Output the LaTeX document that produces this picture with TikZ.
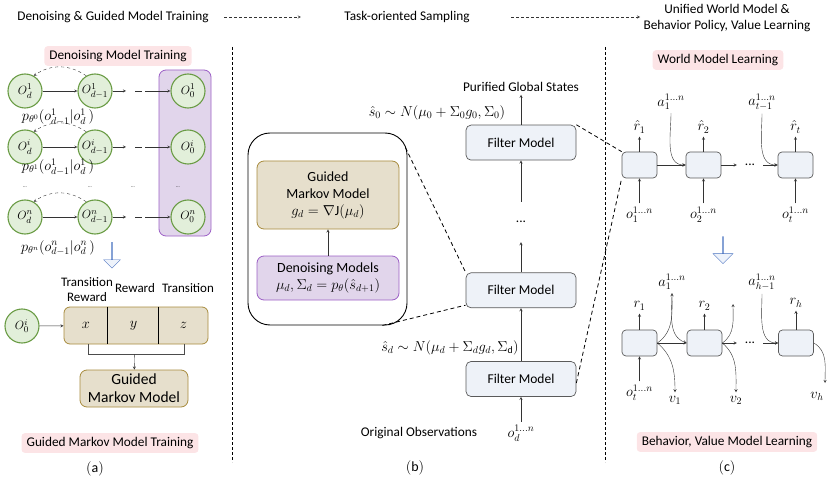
\documentclass[tikz,border=0pt]{standalone}
\usepackage{amsmath,amssymb}
\usepackage{fontspec}
\setmainfont{Carlito}
\usepackage{tikz}
\usetikzlibrary{shapes.geometric, shapes.arrows, arrows.meta, positioning, calc}

\definecolor{tagpink}{HTML}{FCE4E6}
\definecolor{leafgreen}{HTML}{E2EFDA}
\definecolor{leafline}{HTML}{6A9C45}
\definecolor{poolfill}{HTML}{E1D5EB}
\definecolor{poolline}{HTML}{9C5FC6}
\definecolor{tanfill}{HTML}{E6DFCC}
\definecolor{tanline}{HTML}{A88C3E}
\definecolor{cellfill}{HTML}{EEF2F8}
\definecolor{cellline}{HTML}{5A5A5A}
\definecolor{hintfill}{HTML}{EEF3FB}
\definecolor{hintline}{HTML}{4A72C0}

\tikzstyle{tag} = [rectangle, rounded corners=3pt, fill=tagpink, inner xsep=5pt, inner ysep=4pt]
\tikzstyle{sym} = [font=\fontsize{14}{16}\selectfont]
\tikzstyle{obs} = [circle, draw=leafline, line width=1.1pt, fill=leafgreen, minimum size=34pt, inner sep=0pt, font=\fontsize{13}{15}\selectfont]
\tikzstyle{guided} = [rectangle, rounded corners=7pt, draw=tanline, line width=0.8pt, fill=tanfill, align=center]
\tikzstyle{denoise} = [rectangle, rounded corners=7pt, draw=poolline, line width=0.8pt, fill=poolfill, align=center]
\tikzstyle{filter} = [rectangle, rounded corners=5pt, draw=cellline, line width=0.7pt, fill=cellfill, minimum width=110pt, minimum height=35pt, font=\fontsize{13.5}{15}\selectfont]
\tikzstyle{cell} = [rectangle, rounded corners=4pt, draw=cellline, line width=0.7pt, fill=cellfill, minimum width=35pt, minimum height=26pt]
\tikzstyle{hint} = [single arrow, draw=hintline, fill=hintfill, shape border rotate=270, inner sep=0pt, minimum width=20pt, minimum height=27pt, single arrow head extend=5pt]
\tikzstyle{arrow} = [->, >=stealth, black!80]
\tikzstyle{flow} = [->, >=stealth, black!80, dash pattern=on 3pt off 2pt]
\tikzstyle{link} = [black, line width=0.8pt, dash pattern=on 4pt off 3pt]
\tikzstyle{divider} = [black, line width=1pt, dash pattern=on 3pt off 2pt]

\begin{document}
\begin{tikzpicture}[x=1pt, y=1pt, font=\fontsize{13.3}{16}\selectfont]
    \useasboundingbox (0,0) rectangle (827,480);

    % stage headings
    \node (hdtrain) at (113,463) {Denoising \& Guided Model Training};
    \node (hdsample) at (407,463) {Task-oriented Sampling};
    \node (hdlearn) [align=center] at (727,462) {Unified World Model \&\\Behavior Policy, Value Learning};
    \draw [flow, shorten <=12pt, shorten >=40pt] (hdtrain) -- (hdsample);
    \draw [flow, shorten <=38pt] (hdsample) -- (hdlearn.west |- hdsample);
    \draw [divider] (232,433) -- (232,18);
    \draw [divider] (605,433) -- (605,18);

    % (a) denoising chains
    \node (dmt) [tag] at (118,424) {Denoising Model Training};
    \node (pool) [rectangle, rounded corners=7pt, draw=poolline, line width=0.8pt, fill=poolfill, minimum width=52pt, minimum height=166pt] at (185,327) {};
    \foreach \k/\m/\th/\y/\ly in {1/1/0/389/363, i/1/1/333/313, n/n/n/263/232} {
        \node (od\k) [obs] at (25,\y) {$O^{\k}_{d}$};
        \node (odm\k) [obs] at (95,\y) {$O^{\k}_{d-1}$};
        \node (oz\k) [obs] at (188,\y) {$O^{\k}_{0}$};
        \coordinate (gapl\k) at (126,\y);
        \coordinate (gapr\k) at (145,\y);
        \draw [arrow] (od\k) -- (odm\k);
        \draw [arrow, dashed] (odm\k.120) to[bend right=35] (od\k.60);
        \draw [arrow] (odm\k) -- (gapl\k);
        \draw [black!80] ($(gapl\k)+(9,0)$) -- ($(gapr\k)+(-3,0)$);
        \draw [arrow] (gapr\k) -- (oz\k);
        \node (pr\k) [sym] at (58,\ly) {$p_{\theta^{\th}}(o^{\m}_{d-1}\vert o^{\m}_{d}\,)$};
    }
    \foreach \x [count=\j] in {25,90,133,178}
        \node (skip\j) [font=\tiny] at (\x,293) {...};
    \node (down1) [hint, minimum width=17pt, minimum height=26pt, single arrow head extend=4pt] at (112,225) {};

    % (a) guided markov model
    \node (lbx) [align=center, font=\fontsize{13}{15}\selectfont] at (87,190) {Transition\\Reward};
    \node (lby) [font=\fontsize{13}{15}\selectfont] at (135,192) {Reward};
    \node (lbz) [font=\fontsize{13}{15}\selectfont] at (188,192) {Transition};
    \node (xyz) [guided, rounded corners=6pt, minimum width=144pt, minimum height=37pt] at (136,154.5) {};
    \node (cx) [font=\fontsize{15}{17}\selectfont] at (86,154.5) {$x$};
    \node (cy) [font=\fontsize{15}{17}\selectfont] at (133.5,154.5) {$y$};
    \node (cz) [font=\fontsize{15}{17}\selectfont] at (183.5,154.5) {$z$};
    \draw ($(xyz.north west)+(44,0)$) -- ($(xyz.south west)+(44,0)$);
    \draw ($(xyz.north west)+(95,0)$) -- ($(xyz.south west)+(95,0)$);
    \node (seed) [obs] at (22,154) {$O^{i}_{0}$};
    \draw [arrow] (seed) -- (xyz);
    \draw [black!70] ($(xyz.south west)+(25,0)$) -- ++(0,-10) -| ($(xyz.south west)+(121,0)$);
    \coordinate (join) at ($(xyz.south west)+(71,-10)$);
    \node (gma) [guided, font=\fontsize{15.5}{18}\selectfont, minimum width=108pt, minimum height=37pt, inner sep=1pt] at (134,91.5) {Guided\\Markov Model};
    \draw [arrow] (join) -- (gma);
    \node (tgm) [tag] at (110,37) {Guided Markov Model Training};
    \node (capa) [sym] at (95,11) {$(\mathrm{a})$};

    % (b) sampling with filter models
    \node (frame) [draw=black, line width=0.9pt, rounded corners=22pt, minimum width=159pt, minimum height=192pt] at (327.5,251) {};
    \node (gmb) [guided, font=\fontsize{14}{17}\selectfont, minimum width=142pt, minimum height=68pt] at (328,285) {Guided\\Markov Model\\$g_d = \nabla\mathrm{J}(\mu_d)$};
    \node (dnm) [denoise, font=\fontsize{14}{17}\selectfont, minimum width=142pt, minimum height=44pt] at (328,202) {Denoising Models\\$\mu_d, \Sigma_d = p_\theta(\hat{s}_{d+1})$};
    \draw [arrow] (dnm) -- (gmb);

    \node (fbot) [filter] at (521,101) {Filter Model};
    \node (fmid) [filter, above=53pt of fbot] {Filter Model};
    \node (ftop) [filter, above=112pt of fmid] {Filter Model};
    \node (vdots) [minimum height=40pt] at (521,258) {...};
    \node (purified) [above=30pt of ftop] {Purified Global States};
    \node (szero) [sym] at (437,367) {$\hat{s}_0 \sim N(\mu_0 + \Sigma_0 g_0, \Sigma_0)$};
    \node (sd) [sym] at (450,132) {$\hat{s}_d \sim N(\mu_d + \Sigma_d g_d, \Sigma_{\mathrm{d}})$};
    \node (obsd) [sym, below=25pt of fbot] {$o_d^{1\dots n}$};
    \node (orig) at (419,47) {Original Observations};
    \node (capb) [sym] at (415,12) {$(\mathrm{b})$};
    \draw [arrow] (obsd) -- (fbot);
    \draw [arrow] (fbot) -- (fmid);
    \draw [arrow] (fmid) -- (vdots);
    \draw [arrow] (vdots) -- (ftop);
    \draw [arrow] (ftop) -- (purified);
    \draw [link] ($(frame.north east)+(-2,-15)$) -- (fmid.north west);
    \draw [link] ($(frame.south east)+(-25,0)$) -- ($(fmid.south west)+(0,3)$);

    % (c) world model row
    \node (twm) [tag] at (718,420) {World Model Learning};
    \node (wm1) [cell] at (639.5,315) {};
    \node (wm2) [cell] at (703.5,315) {};
    \node (wm3) [cell] at (795.5,315) {};
    \node (wr1) [sym, above=15pt of wm1] {$\hat{r}_1$};
    \node (wr2) [sym, above=15pt of wm2] {$\hat{r}_2$};
    \node (wrt) [sym, above=15pt of wm3] {$\hat{r}_t$};
    \node (wo1) [sym, below=25pt of wm1] {$o_1^{1\dots n}$};
    \node (wo2) [sym, below=25pt of wm2] {$o_2^{1\dots n}$};
    \node (wot) [sym, below=25pt of wm3] {$o_t^{1\dots n}$};
    \node (wa1) [sym] at (671,378) {$a_1^{1\dots n}$};
    \node (wat) [sym] at (762,378) {$a_{t-1}^{1\dots n}$};
    \node (wdots) [minimum width=26pt] at (750,315) {...};
    \foreach \c/\r/\o in {wm1/wr1/wo1, wm2/wr2/wo2, wm3/wrt/wot} {
        \draw [arrow] (\c) -- (\r);
        \draw [arrow] (\o) -- (\c);
    }
    \draw [arrow] (wm1) -- (wm2);
    \draw [arrow] (wm2) -- (wdots);
    \draw [arrow] (wdots) -- (wm3);
    \draw [arrow] (wa1.south) to[out=-90, in=180] (wm2.west);
    \draw [arrow] (wat.south) to[out=-90, in=180] (wm3.west);
    \node (down2) [hint] at (723,230) {};

    % (c) behavior and value row
    \node (bv1) [cell] at (639.5,137) {};
    \node (bv2) [cell] at (704.5,137) {};
    \node (bv3) [cell] at (796,137) {};
    \node (br1) [sym, above=16pt of bv1] {$r_1$};
    \node (br2) [sym, above=16pt of bv2] {$r_2$};
    \node (brh) [sym, above=19pt of bv3] {$r_h$};
    \node (bot) [sym, below=25pt of bv1] {$o_t^{1\dots n}$};
    \node (ba1) [sym] at (672,198) {$a_1^{1\dots n}$};
    \node (bah) [sym] at (762,198) {$a_{h-1}^{1\dots n}$};
    \node (bval1) [sym] at (675,80) {$v_1$};
    \node (bval2) [sym] at (736,80) {$v_2$};
    \node (bvalh) [sym] at (817,84) {$v_h$};
    \node (bdots) [minimum width=26pt] at (750,137) {...};
    \coordinate (bup2) at (733,176);
    \coordinate (bendh) at (825,97);
    \draw [arrow] (bv1) -- (br1);
    \draw [arrow] (bv2) -- (br2);
    \draw [arrow] (bv3) -- (brh);
    \draw [arrow] (bot) -- (bv1);
    \draw [arrow] (bv1) -- (bv2);
    \draw [arrow] (bv2) -- (bdots);
    \draw [arrow] (bdots) -- (bv3);
    \draw [arrow] (bv1.east) to[out=35, in=-90] (ba1.south);
    \draw [arrow] (ba1.south) to[out=-90, in=160] (bv2.west);
    \draw [arrow] (bv1.east) to[out=-40, in=90] (bval1.north);
    \draw [arrow] (bv2.east) to[out=35, in=-90] (bup2);
    \draw [arrow] (bv2.east) to[out=-40, in=90] (bval2.north);
    \draw [arrow] (bah.south) to[out=-90, in=180] (bv3.west);
    \draw [arrow] (bv3.east) to[out=-30, in=90] (bendh);
    \node (tbv) [tag] at (727,38) {Behavior, Value Model Learning};
    \node (capc) [sym] at (727,12) {$(\mathrm{c})$};

    % dashed links into the learning stage
    \draw [link] (ftop.north east) -- (wm1.north west);
    \draw [link] ($(fbot.east)+(0,-4)$) -- (wm1.south west);
\end{tikzpicture}
\end{document}
